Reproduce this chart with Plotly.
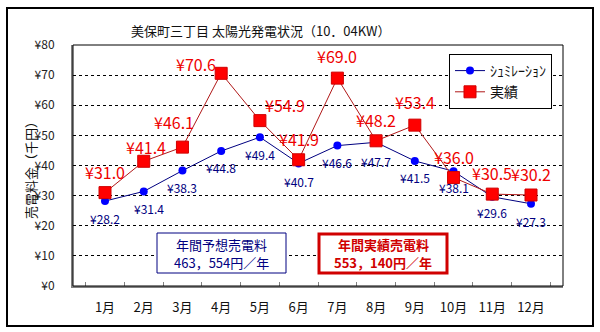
import plotly.graph_objects as go

months = ["1月", "2月", "3月", "4月", "5月", "6月", "7月", "8月", "9月", "10月", "11月", "12月"]
sim_values = [28.2, 31.4, 38.3, 44.8, 49.4, 40.7, 46.6, 47.7, 41.5, 38.1, 29.6, 27.3]
act_values = [31.0, 41.4, 46.1, 70.6, 54.9, 41.9, 69.0, 48.2, 53.4, 36.0, 30.5, 30.2]
sim_name = "ｼｭﾐﾚｰｼｮﾝ"
act_name = "実績"
title_text = "美保町三丁目 太陽光発電状況（10．04KW）"
yaxis_title = "売電料金（千円）"
box_sim_lines = ["年間予想売電料", "463，554円／年"]
box_act_lines = ["年間実績売電料", "553，140円／年"]

# label offsets (pixels) – styling only
act_dx = [0, 2, -8, -25, 25, 0, 0, 0, 0, 0, 0, 0]
act_dy = [21, 14, 25, 9, 16, 21, 22, 21, 23, 21, 21, 21]
sim_dx = [0, 5, 0, 0, 0, 0, 0, 0, 0, 0, 0, 0]
sim_dy = [-17, -17, -17, -16, -17, -18, -17, -19, -17, -16, -16, -18]

FONT = "Noto Sans CJK JP"
RED = "#ee0000"
NAVY = "#000080"


def px_x(p):
    return (p - 73) / 490


def px_y(p):
    return (286 - p) / 241


fig = go.Figure()
fig.add_trace(go.Scatter(
    x=months, y=sim_values, name=sim_name, mode="lines+markers",
    line=dict(color=NAVY, width=1),
    marker=dict(symbol="circle", size=8, color="#0000ff"),
))
fig.add_trace(go.Scatter(
    x=months, y=act_values, name=act_name, mode="lines+markers",
    line=dict(color="#b01818", width=1),
    marker=dict(symbol="square", size=12, color="#ff0000", line=dict(color="#d00000", width=1)),
))

annotations = []
for m, v, dx, dy in zip(months, act_values, act_dx, act_dy):
    annotations.append(dict(x=m, y=v, xref="x", yref="y", text=f"¥{v:.1f}", showarrow=False,
                            xanchor="center", yanchor="middle",
                            xshift=dx, yshift=dy, font=dict(family=FONT, size=16, color=RED)))
for m, v, dx, dy in zip(months, sim_values, sim_dx, sim_dy):
    annotations.append(dict(x=m, y=v, xref="x", yref="y", text=f"¥{v:.1f}", showarrow=False,
                            xanchor="center", yanchor="middle",
                            xshift=dx, yshift=dy, font=dict(family=FONT, size=12, color=NAVY)))

annotations.append(dict(x=px_x(260), y=px_y(31), xref="paper", yref="paper",
                        text=title_text, showarrow=False, xanchor="center", yanchor="middle",
                        font=dict(family=FONT, size=13, color="#111")))
annotations.append(dict(x=px_x(30), y=px_y(167), xref="paper", yref="paper",
                        text=yaxis_title, showarrow=False, textangle=-90,
                        xanchor="center", yanchor="middle",
                        font=dict(family=FONT, size=13, color="#111")))
for line, yy in zip(box_sim_lines, [245, 262]):
    annotations.append(dict(x=px_x(221.5), y=px_y(yy), xref="paper", yref="paper",
                            text=line, showarrow=False, xanchor="center", yanchor="middle",
                            font=dict(family=FONT, size=13, color=NAVY)))
for line, yy in zip(box_act_lines, [245, 262]):
    annotations.append(dict(x=px_x(383), y=px_y(yy), xref="paper", yref="paper",
                            text=f"<b>{line}</b>", showarrow=False, xanchor="center", yanchor="middle",
                            font=dict(family=FONT, size=13, color="#d00000")))

shapes = [
    dict(type="rect", xref="paper", yref="paper", x0=0, x1=1, y0=0, y1=1,
         line=dict(color="black", width=1)),
    dict(type="rect", xref="paper", yref="paper",
         x0=px_x(7), x1=px_x(593), y0=px_y(326), y1=px_y(8),
         line=dict(color="black", width=2)),
    dict(type="rect", xref="paper", yref="paper",
         x0=px_x(157), x1=px_x(286), y0=px_y(273), y1=px_y(233),
         line=dict(color=NAVY, width=1), fillcolor="white", layer="above"),
    dict(type="rect", xref="paper", yref="paper",
         x0=px_x(319), x1=px_x(447), y0=px_y(273), y1=px_y(234),
         line=dict(color="#d00000", width=3), fillcolor="white", layer="above"),
]

fig.update_layout(
    width=600, height=332,
    margin=dict(l=73, r=37, t=45, b=46),
    paper_bgcolor="white", plot_bgcolor="white",
    font=dict(family=FONT, size=12, color="#111"),
    showlegend=True,
    legend=dict(x=px_x(449), y=px_y(54), xanchor="left", yanchor="top",
                bgcolor="white", bordercolor="black", borderwidth=1,
                font=dict(family=FONT, size=14, color="#111"),
                tracegroupgap=0, itemwidth=30),
    annotations=annotations,
    shapes=shapes,
    xaxis=dict(type="category", showgrid=False, showline=True, linecolor="#808080", linewidth=2,
               ticks="inside", tickson="boundaries", ticklen=4, tickcolor="#808080",
               ticklabelstandoff=8, tickfont=dict(family=FONT, size=13, color="#111"),
               fixedrange=True),
    yaxis=dict(range=[0, 80], dtick=10, tickprefix="¥", showgrid=True, gridcolor="black",
               griddash="3px,3px", gridwidth=1, zeroline=False,
               showline=True, linecolor="#808080", linewidth=2, ticks="",
               ticklabelstandoff=14, tickfont=dict(family=FONT, size=12, color="#222"),
               fixedrange=True),
)

fig.write_html("out.html")
